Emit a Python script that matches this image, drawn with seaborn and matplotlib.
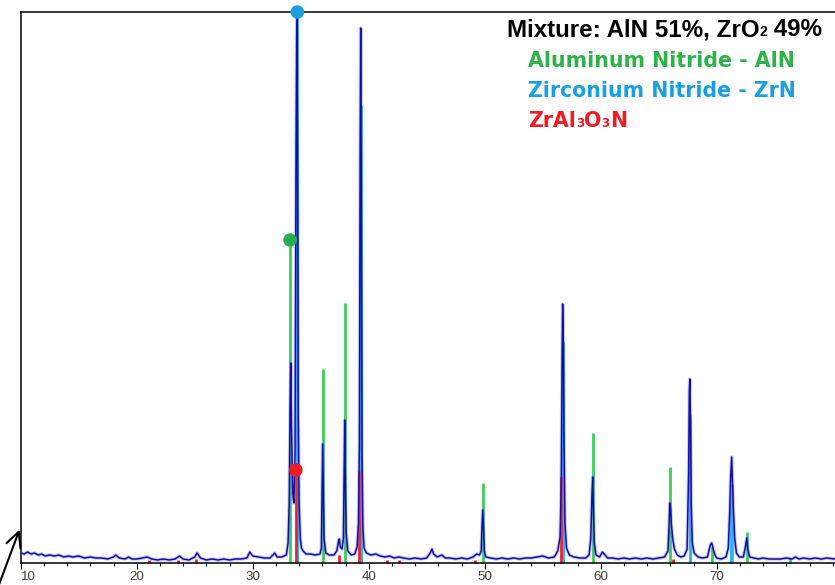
import matplotlib
matplotlib.use("Agg")
import matplotlib.pyplot as plt
import seaborn as sns
import pandas as pd

# ---------------- data ----------------
# measured XRD pattern (2theta, intensity in arbitrary units)
profile_x = [10.0, 10.3, 10.6, 10.9, 11.2, 11.5, 11.8, 12.1, 12.5, 12.9, 13.3, 13.7, 14.1, 14.5, 15.0, 15.5,
             16.0, 16.5, 17.0, 17.5, 18.0, 18.2, 18.5, 19.0, 19.3, 19.6, 20.0, 20.5, 20.9, 21.3, 21.8, 22.3,
             22.8, 23.3, 23.7, 24.0, 24.5, 25.0, 25.2, 25.5, 26.0, 26.5, 27.0, 27.5, 28.0, 28.5, 29.0, 29.5,
             29.75, 30.0, 30.5, 31.0, 31.5, 31.9, 32.1, 32.5, 32.9,
             33.05, 33.15, 33.22, 33.28, 33.34, 33.45, 33.55, 33.65, 33.74, 33.8, 33.86, 33.93, 34.0, 34.1,
             34.2, 34.35, 34.6, 35.0, 35.4, 35.8,
             35.92, 35.97, 36.03, 36.09, 36.15, 36.3, 36.6, 37.0, 37.25,
             37.4, 37.47, 37.55, 37.7,
             37.82, 37.88, 37.93, 37.99, 38.06, 38.2, 38.5, 38.8, 39.0, 39.12,
             39.2, 39.26, 39.31, 39.36, 39.42, 39.5, 39.6, 39.8, 40.2, 40.6, 41.0, 41.4, 41.8, 42.2, 42.6,
             43.0, 43.5, 44.0, 44.5, 45.0, 45.3, 45.45, 45.6, 45.9, 46.3, 46.6, 47.0, 47.5, 48.0, 48.5,
             49.0, 49.3, 49.55,
             49.7, 49.76, 49.83, 49.9, 49.97, 50.1, 50.5, 51.0, 51.5, 52.0, 52.5, 53.0, 53.5, 54.0, 54.5,
             55.0, 55.5, 56.0, 56.3, 56.5, 56.6,
             56.67, 56.72, 56.78, 56.84, 56.92, 57.05, 57.3, 57.7, 58.2, 58.7, 59.0, 59.15,
             59.25, 59.31, 59.37, 59.45, 59.6, 59.9, 60.15, 60.3, 60.6, 61.0, 61.5, 62.0, 62.5, 63.0, 63.5,
             64.0, 64.5, 65.0, 65.5, 65.8,
             65.9, 65.95, 66.02, 66.1, 66.2, 66.35, 66.6, 66.9, 67.2, 67.45,
             67.58, 67.64, 67.68, 67.74, 67.8, 67.9, 68.05, 68.4, 68.8, 69.2, 69.45, 69.57, 69.7, 69.85,
             70.0, 70.4, 70.8, 71.0,
             71.12, 71.2, 71.29, 71.36, 71.45, 71.55, 71.7, 71.95, 72.3, 72.5, 72.59, 72.68, 72.85, 73.2,
             73.6, 74.0, 74.5, 75.0, 75.5, 76.0, 76.5, 76.8, 77.1, 77.5, 78.0, 78.5, 79.0, 79.5, 80.2]
profile_y = [10, 9, 11, 9, 10, 8, 9, 7, 8, 7, 8, 6, 7, 6, 7, 5,
             6, 5, 5, 4, 6, 8, 5, 4, 6, 4, 4, 5, 6, 4, 3, 4,
             3, 4, 7, 4, 3, 6, 10, 5, 3, 4, 3, 4, 3, 4, 4, 5,
             11, 7, 6, 5, 5, 10, 6, 6, 8,
             20, 60, 150, 200, 140, 70, 60, 110, 420, 549, 430, 150, 60, 25,
             15, 12, 9, 9, 8, 9,
             15, 60, 119, 70, 25, 10, 8, 8, 12,
             22, 24, 16, 14,
             25, 90, 143, 80, 30, 12, 8, 9, 16, 40,
             120, 400, 535, 380, 110, 35, 15, 10, 8, 9, 7, 6, 7, 5, 6,
             5, 4, 5, 4, 5, 10, 14, 9, 6, 8, 5, 5, 4, 5, 4,
             6, 9, 8,
             12, 35, 53, 35, 12, 6, 5, 4, 5, 4, 5, 4, 5, 5, 6,
             7, 5, 6, 12, 26, 80,
             200, 259, 220, 120, 40, 15, 8, 6, 5, 5, 8, 25,
             70, 86, 55, 20, 8, 6, 11, 9, 5, 5, 4, 5, 4, 5, 4,
             5, 4, 5, 6, 12,
             40, 60, 55, 38, 25, 14, 8, 6, 7, 14,
             90, 170, 184, 140, 60, 20, 10, 6, 5, 6, 18, 20, 14, 8,
             5, 4, 6, 15,
             50, 85, 106, 80, 50, 25, 10, 6, 6, 18, 25, 14, 6, 5,
             4, 5, 4, 4, 4, 5, 4, 6, 4, 5, 4, 5, 4, 5, 4]

# reference sticks
aln_pos = [33.22, 36.03, 37.93, 49.83, 59.31, 65.95, 69.6, 71.35, 72.6, 76.3]
aln_int = [323, 194, 260, 80, 130, 96, 16, 79, 31, 5]
zrn_pos = [33.85, 39.33, 56.78, 67.70, 71.22]
zrn_int = [551, 458, 221, 148, 60]
zao_pos = [21.1, 23.6, 25.15, 33.72, 37.4, 39.2, 41.6, 42.6, 49.2, 56.55, 66.2]
zao_int = [3, 3, 4, 93, 8, 92, 3, 3, 3, 86, 4]

x_ticks = [10, 20, 30, 40, 50, 60, 70]
# text pieces: (text, is_subscript)
title_pieces = [("Mixture: AlN 51%, ZrO", False), ("2", True), (" 49%", False)]
phase_pieces = [[("Aluminum Nitride - AlN", False)],
                [("Zirconium Nitride - ZrN", False)],
                [("ZrAl", False), ("3", True), ("O", False), ("3", True), ("N", False)]]

# ---------------- style ----------------
sns.set_theme(style="white")
plt.rcParams['font.family'] = ['Liberation Sans', 'DejaVu Sans']

W, H = 835, 585
fig = plt.figure(figsize=(W / 100, H / 100), dpi=100)
ax = fig.add_axes([20.7 / W, 22 / H, (W - 20.7) / W, 551 / H])

green_stick = "#3dcc5c"
blue_stick = "#2bb8ee"
red_stick = "#e8242b"

ax.vlines(aln_pos, 0, aln_int, colors=green_stick, linewidth=2.0, zorder=2)
ax.vlines(zrn_pos, 0, zrn_int, colors=blue_stick, linewidth=2.2, zorder=2)
ax.vlines(zao_pos, 0, zao_int, colors=red_stick, linewidth=2.0, zorder=2)

df = pd.DataFrame({"two_theta": profile_x, "intensity": profile_y})
sns.lineplot(data=df, x="two_theta", y="intensity", ax=ax, color="#7a7af0",
             linewidth=2.6, alpha=0.4, sort=False, estimator=None, zorder=3)
sns.lineplot(data=df, x="two_theta", y="intensity", ax=ax, color="#1010a0",
             linewidth=1.1, sort=False, estimator=None, zorder=4)

# circles at the strongest line of each phase
mk = pd.DataFrame({"x": [zrn_pos[0], aln_pos[0], zao_pos[3]],
                   "y": [zrn_int[0], aln_int[0], zao_int[3]],
                   "c": ["ZrN", "AlN", "ZAO"]})
sns.scatterplot(data=mk, x="x", y="y", hue="c",
                palette={"ZrN": "#1a9fe0", "AlN": "#2aae4a", "ZAO": "#ee1c24"},
                s=95, edgecolor="none", ax=ax, zorder=6, legend=False)
for coll in ax.collections:
    coll.set_clip_on(False)

ax.set_xlim(10, 10 + (W - 20.7) / 11.6)
ax.set_ylim(0, 551)
ax.set_xlabel("")
ax.set_ylabel("")
ax.set_yticks([])
ax.set_xticks(x_ticks)
ax.set_xticks(range(12, 81, 2), minor=True)
ax.set_xticklabels([str(t) for t in x_ticks])
ax.tick_params(axis='x', which='major', direction='out', length=4.5, width=0.8, color='black',
               labelsize=9.6, labelcolor='#4a3b2c', pad=1.5, bottom=True)
ax.tick_params(axis='x', which='minor', direction='out', length=2.5, width=0.8, color='black', bottom=True)
ax.get_xticklabels()[0].set_ha('left')
for s in ['left', 'bottom', 'top']:
    ax.spines[s].set_visible(True)
    ax.spines[s].set_color('black')
    ax.spines[s].set_linewidth(1.1)
ax.spines['right'].set_visible(False)

# legend texts, composed piece by piece so the subscripts are small
renderer = fig.canvas.get_renderer()


def draw_pieces(pieces, x_px, base_px, size, color, family, align='left'):
    sub_size = size * 0.58
    # measure total width
    widths = []
    for txt, sub in pieces:
        t = fig.text(0, 0, txt, fontsize=sub_size if sub else size, fontweight='bold',
                     family=family, transform=None)
        widths.append(t.get_window_extent(renderer).width)
        t.remove()
    x = x_px if align == 'left' else x_px - sum(widths)
    for (txt, sub), w in zip(pieces, widths):
        fig.text(x, H - base_px, txt, fontsize=sub_size if sub else size, fontweight='bold',
                 family=family, color=color, ha='left', va='baseline', transform=None)
        x += w


draw_pieces(title_pieces, 822, 36, 17.4, 'black', 'Liberation Sans', align='right')
phase_colors = ["#2db34a", "#1a9fe0", "#ee1c24"]
baselines = [67, 97, 127]
for pcs, col, b in zip(phase_pieces, phase_colors, baselines):
    draw_pieces(pcs, 528, b, 14.8, col, 'DejaVu Sans')

# arrow in the lower-left corner
ax.annotate("", xy=(20.5, H - 527), xycoords='figure pixels',
            xytext=(-3, H - 590), textcoords='figure pixels',
            arrowprops=dict(arrowstyle='->,head_length=0.9,head_width=0.45', lw=1.5, color='black'),
            annotation_clip=False)

fig.savefig("out.png", dpi=100)
